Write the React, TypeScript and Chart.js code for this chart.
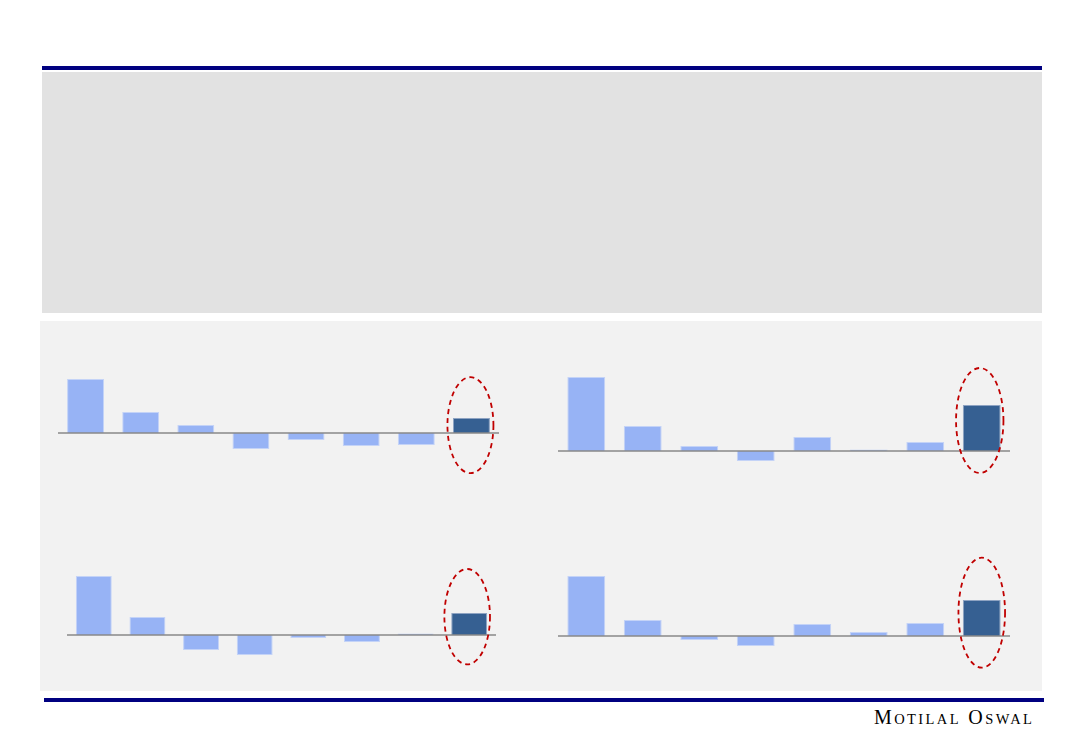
import React, { useEffect, useRef } from "react";
import { Chart, registerables } from "chart.js";

Chart.register(...registerables);

// ---- data ----
const categories = ["C1", "C2", "C3", "C4", "C5", "C6", "C7", "C8"];
const topLeftValues = [5.4, 2.1, 0.8, -1.6, -0.7, -1.3, -1.2, 1.5];
const topRightValues = [7.4, 2.5, 0.5, -1.0, 1.4, 0.15, 0.9, 4.6];
const bottomLeftValues = [5.9, 1.8, -1.5, -2.0, -0.3, -0.7, 0.15, 2.2];
const bottomRightValues = [6.0, 1.6, -0.4, -1.0, 1.2, 0.4, 1.3, 3.6];

const LIGHT = "#97b3f5";
const LIGHT_EDGE = "#c4d3f7";
const DARK = "#366092";
const DARK_EDGE = "#8ea3c2";
const NAVY = "#000080";

type ChartSpec = {
  values: number[];
  left: number;
  top: number;
  width: number;
  height: number;
  min: number;
  max: number;
  ellipseCenter: number;
  rx: number;
  ry: number;
  dx: number;
};

const specs: ChartSpec[] = [
  { values: topLeftValues, left: 58, top: 363, width: 441, height: 120, min: -5, max: 7, ellipseCenter: 0.78, rx: 23, ry: 48, dx: -1 },
  { values: topRightValues, left: 558, top: 361, width: 452, height: 120, min: -3, max: 9, ellipseCenter: 3.05, rx: 23.7, ry: 52.5, dx: -2 },
  { values: bottomLeftValues, left: 67, top: 565, width: 429, height: 110, min: -4, max: 7, ellipseCenter: 1.83, rx: 22.8, ry: 47.7, dx: -2 },
  { values: bottomRightValues, left: 558, top: 556, width: 452, height: 120, min: -4, max: 8, ellipseCenter: 2.33, rx: 23.3, ry: 55, dx: 0 },
];

function MiniBar({ spec }: { spec: ChartSpec }) {
  const ref = useRef<HTMLCanvasElement | null>(null);
  useEffect(() => {
    if (!ref.current) return;
    const last = spec.values.length - 1;
    const decor = {
      id: "decor",
      afterDatasetsDraw(chart: any) {
        const { ctx, chartArea, scales } = chart;
        const y0 = scales.y.getPixelForValue(0);
        ctx.save();
        ctx.strokeStyle = "#888888";
        ctx.lineWidth = 1.5;
        ctx.beginPath();
        ctx.moveTo(chartArea.left, y0);
        ctx.lineTo(chartArea.right, y0);
        ctx.stroke();
        const bar = chart.getDatasetMeta(0).data[last];
        const cx = bar.x + spec.dx;
        const cy = scales.y.getPixelForValue(spec.ellipseCenter);
        ctx.strokeStyle = "#c00000";
        ctx.lineWidth = 1.8;
        ctx.setLineDash([5, 4]);
        ctx.beginPath();
        ctx.ellipse(cx, cy, spec.rx, spec.ry, 0, 0, Math.PI * 2);
        ctx.stroke();
        ctx.restore();
      },
    };
    const chart = new Chart(ref.current, {
      type: "bar",
      data: {
        labels: categories,
        datasets: [
          {
            data: spec.values,
            backgroundColor: spec.values.map((_, i) => (i === last ? DARK : LIGHT)),
            borderColor: spec.values.map((_, i) => (i === last ? DARK_EDGE : LIGHT_EDGE)),
            borderWidth: 1,
            barPercentage: 0.67,
            categoryPercentage: 1,
          },
        ],
      },
      options: {
        responsive: false,
        animation: false,
        layout: { padding: 0 },
        plugins: { legend: { display: false }, tooltip: { enabled: false } },
        scales: {
          x: { display: false, offset: true },
          y: { display: false, min: spec.min, max: spec.max },
        },
      },
      plugins: [decor],
    });
    return () => chart.destroy();
  }, [spec]);
  return (
    <canvas
      ref={ref}
      width={spec.width}
      height={spec.height}
      style={{ position: "absolute", left: spec.left, top: spec.top, width: spec.width, height: spec.height }}
    />
  );
}

const big = { fontSize: 20 };
const small = { fontSize: 14.5 };

export default function App() {
  return (
    <div style={{ position: "fixed", left: 0, top: 0, width: 1083, height: 750, background: "#ffffff", overflow: "hidden" }}>
      <div style={{ position: "absolute", left: 42, top: 66, width: 1000, height: 4, background: NAVY }} />
      <div style={{ position: "absolute", left: 42, top: 72, width: 1000, height: 241, background: "#e2e2e2" }} />
      <div style={{ position: "absolute", left: 40, top: 321, width: 1002, height: 370, background: "#f2f2f2" }} />
      <div style={{ position: "absolute", left: 44, top: 698, width: 1000, height: 4, background: NAVY }} />
      <div
        style={{
          position: "absolute",
          left: 874,
          top: 707,
          fontFamily: "'Liberation Serif', 'DejaVu Serif', serif",
          fontSize: 20,
          lineHeight: "20px",
          color: "#000000",
          letterSpacing: 2.4,
          whiteSpace: "nowrap",
        }}
      >
        <span style={big}>M</span>
        <span style={small}>OTILAL</span>
        <span style={big}> O</span>
        <span style={small}>SWAL</span>
      </div>
      {specs.map((s, i) => (
        <MiniBar key={i} spec={s} />
      ))}
    </div>
  );
}
